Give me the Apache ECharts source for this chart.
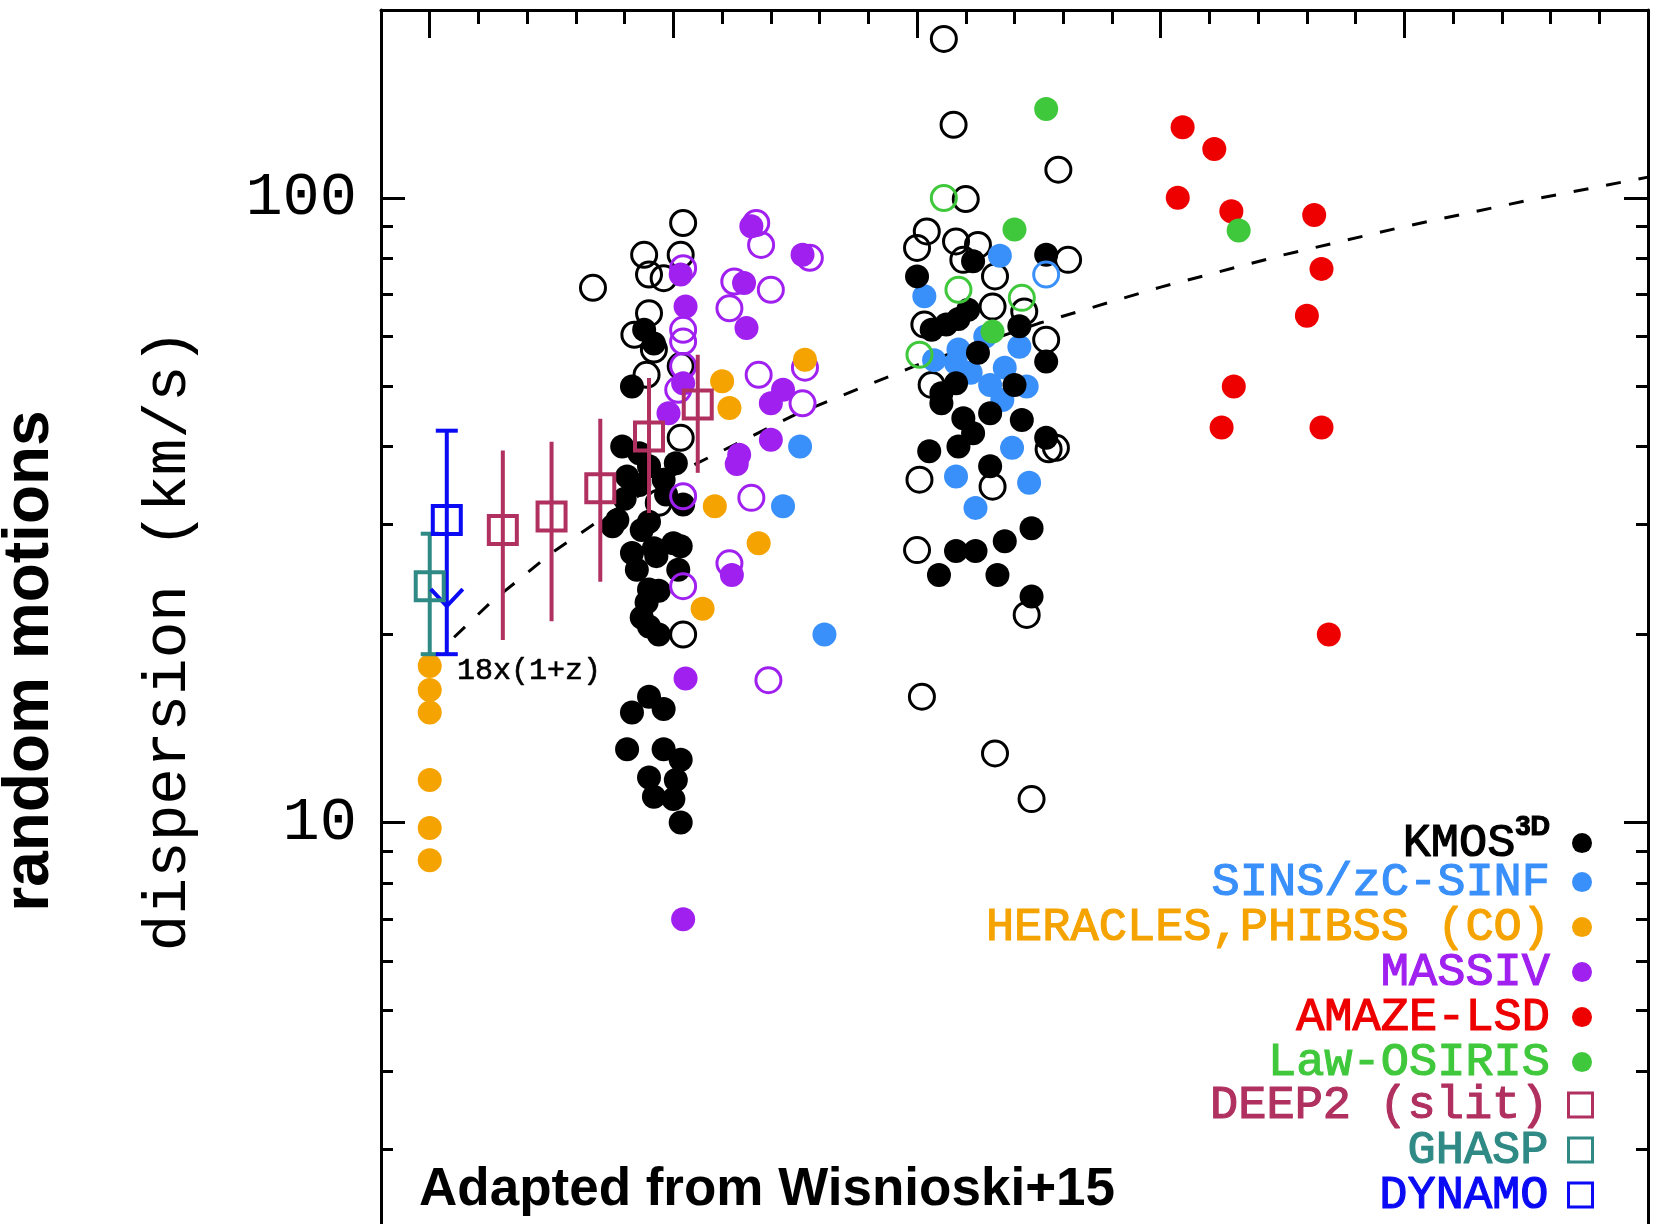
<!DOCTYPE html>
<html>
<head>
<meta charset="utf-8">
<script src="https://cdn.jsdelivr.net/npm/echarts@6/dist/echarts.min.js"></script>
<style>
  html, body { margin: 0; padding: 0; background: #ffffff; }
  #chart { width: 1654px; height: 1224px; }
</style>
</head>
<body>
<div id="chart"></div>
<script>
// Axis ranges: redshift z (linear) and velocity dispersion in km/s (log)
const zRange = [-0.2, 5];
const sigmaRange = [2, 200];
const zMajorTicks = [0, 1, 2, 3, 4, 5];
const zMinorTicks = [0.2, 0.4, 0.6, 0.8, 1.2, 1.4, 1.6, 1.8, 2.2, 2.4, 2.6, 2.8,
                     3.2, 3.4, 3.6, 3.8, 4.2, 4.4, 4.6, 4.8];
const sigmaMajorTicks = [10, 100];
const sigmaMinorTicks = [3, 4, 5, 6, 7, 8, 9, 20, 30, 40, 50, 60, 70, 80, 90];

// [z, sigma] for each survey
const kmosFilled = [
  [0.88, 61.5], [0.92, 58.5], [0.83, 49.9], [0.79, 40.0], [0.81, 35.8], [0.86, 39.0],
  [0.90, 37.2], [1.01, 37.6], [1.04, 32.3], [0.77, 30.5], [0.90, 30.3], [0.75, 29.8],
  [0.87, 29.4], [0.83, 27.0], [0.93, 26.7], [1.03, 27.7], [1.02, 25.4], [0.90, 23.6],
  [0.89, 22.5], [0.90, 20.6], [0.94, 20.0], [0.83, 15.0], [0.90, 15.9], [0.96, 15.2],
  [0.81, 13.1], [0.96, 13.1], [1.03, 12.6], [0.90, 11.8], [1.01, 11.7], [0.92, 11.0],
  [1.00, 10.9], [1.03, 10.0],
  [0.86, 34.7], [0.96, 35.4], [0.92, 27.5], [1.00, 28.0], [0.85, 25.4], [0.94, 23.5],
  [0.87, 21.3], [0.97, 33.5], [0.80, 33.0],
  [2.00, 74.9], [2.53, 81.1], [2.23, 79.2], [2.21, 66.2], [2.17, 64.0], [2.12, 62.7],
  [2.06, 61.5], [2.42, 62.3], [2.25, 56.5], [2.53, 54.7], [2.40, 50.2], [2.10, 48.7],
  [2.16, 50.5], [2.10, 46.9], [2.19, 44.4], [2.30, 45.2], [2.43, 44.1], [2.23, 42.0],
  [2.05, 39.3], [2.17, 40.0], [2.53, 41.3], [2.30, 37.2], [2.47, 29.6], [2.36, 28.2],
  [2.16, 27.2], [2.24, 27.2], [2.09, 24.9], [2.33, 24.9], [2.47, 23.0]
];
const kmosOpen = [
  [1.04, 91.2], [0.67, 71.8], [0.88, 81.1], [1.03, 81.1], [0.90, 75.4], [0.96, 74.4],
  [0.90, 65.4], [0.84, 60.4], [0.92, 57.2], [0.89, 52.1], [1.03, 53.8], [1.03, 41.3],
  [0.94, 32.5], [1.04, 20.0],
  [2.11, 179.8], [2.15, 131], [2.58, 111], [2.20, 99.6], [2.04, 88.4], [2.00, 83.2],
  [2.16, 85.2], [2.25, 84.1], [2.19, 79.6], [2.62, 79.6], [2.32, 74.9], [2.03, 62.7],
  [2.31, 67.0], [2.44, 65.8], [2.53, 59.3], [2.06, 50.2], [2.57, 39.8], [2.54, 39.6],
  [2.01, 35.4], [2.31, 34.5], [2.00, 27.3], [2.45, 21.5], [2.02, 15.9], [2.32, 12.9],
  [2.47, 10.9]
];
const sinsFilled = [
  [1.52, 40.0], [1.45, 32.1], [1.62, 20.0],
  [2.34, 80.8], [2.03, 69.6], [2.17, 57.2], [2.42, 57.8], [2.30, 50.2], [2.45, 49.9],
  [2.16, 54.4], [2.36, 53.5], [2.28, 60.0], [2.07, 55.0], [2.22, 52.5], [2.35, 47.5],
  [2.39, 39.8], [2.16, 35.8], [2.46, 35.0], [2.24, 31.9]
];
const sinsOpen = [[2.53, 75.4]];
const heracles = [
  [0.0, 17.8], [0.0, 16.3], [0.0, 15.0], [0.0, 11.7], [0.0, 9.8], [0.0, 8.7],
  [1.20, 50.9], [1.23, 46.1], [1.54, 55.1], [1.17, 32.1], [1.35, 28.0], [1.12, 22.0]
];
const massivFilled = [
  [1.32, 90.1], [1.53, 81.1], [1.03, 75.4], [1.29, 73.1], [1.05, 67.0], [1.30, 61.9],
  [1.04, 50.5], [0.98, 45.2], [1.45, 49.3], [1.40, 46.9], [1.40, 41.0], [1.27, 38.8],
  [1.26, 37.5], [1.24, 24.9], [1.05, 17.0], [1.04, 7.0]
];
const massivOpen = [
  [1.34, 91.2], [1.36, 84.1], [1.56, 80.2], [1.04, 77.2], [1.25, 73.5], [1.40, 71.3],
  [1.23, 66.6], [1.04, 61.5], [1.04, 58.9], [1.04, 53.8], [1.35, 52.1], [1.02, 49.3],
  [1.53, 46.9], [1.54, 53.5], [1.32, 33.1], [1.04, 33.3], [1.23, 26.0], [1.04, 23.9],
  [1.39, 16.9]
];
const amaze = [
  [3.09, 129.8], [3.22, 119.8], [3.07, 100.1], [3.29, 95.2], [3.63, 93.9], [3.66, 77.0],
  [3.60, 64.8], [3.30, 49.9], [3.25, 42.9], [3.66, 42.9], [3.69, 20.0]
];
const lawFilled = [[2.53, 138.8], [2.40, 89.0], [2.31, 61.1], [3.32, 88.7]];
const lawOpen = [[2.11, 100], [2.01, 56.1], [2.43, 69.2], [2.17, 71.3]];

// [z, sigma, lower, upper]
const deep2 = [
  [0.3, 29.4, 19.6, 39.4], [0.5, 30.9, 21.0, 40.7], [0.7, 34.3, 24.3, 44.3],
  [0.9, 41.5, 31.3, 51.5], [1.1, 46.7, 36.3, 56.1]
];
const ghasp = [[0.0, 23.9, 18.6, 29.0]];
// [z, sigma, lower, upper, upper-limit arrow tip]
const dynamo = [[0.07, 30.5, 18.6, 42.4, 22.2]];

// sigma = 18 x (1 + z) relation
const relationZ = [0.1, 0.25, 0.5, 0.75, 1, 1.5, 2, 2.5, 3, 3.5, 4, 4.5, 5];
const relationSigma = [19.8, 22.5, 27, 31.5, 36, 45, 54, 63, 72, 81, 90, 99, 108];

const C = {
  kmos: '#000000', sins: '#3a90fa', heracles: '#f5a300', massiv: '#a020f0',
  amaze: '#ee0000', law: '#40c83c', deep2: '#b03060', ghasp: '#2f8a85', dynamo: '#0a0af5'
};

const HERSHEY = '"Liberation Mono", "DejaVu Sans Mono", monospace';
const SANS = '"Liberation Sans", Arial, sans-serif';

const chart = echarts.init(document.getElementById('chart'), null, { renderer: 'canvas' });

function filled(name, data, color) {
  return {
    type: 'scatter', name, data, symbol: 'circle', symbolSize: 24,
    itemStyle: { color, opacity: 1 }, silent: true, z: 4
  };
}
function open(name, data, color) {
  return {
    type: 'scatter', name, data, symbol: 'circle', symbolSize: 25,
    itemStyle: { color: 'rgba(0,0,0,0)', borderColor: color, borderWidth: 3, opacity: 1 },
    silent: true, z: 4
  };
}
function squares(name, data, color) {
  return {
    type: 'scatter', name, data: data.map(d => [d[0], d[1]]), symbol: 'rect', symbolSize: 28,
    itemStyle: { color: 'rgba(0,0,0,0)', borderColor: color, borderWidth: 4, opacity: 1 },
    silent: true, z: 6
  };
}
function errorBars(name, data, color, capHalf) {
  return {
    type: 'custom', name: name + ' range', data, silent: true, z: 5,
    encode: { x: 0, y: 1 },
    renderItem: (params, api) => {
      const x = api.value(0);
      const top = api.coord([x, api.value(3)]);
      const bot = api.coord([x, api.value(2)]);
      const st = { stroke: color, lineWidth: 4 };
      const children = [{ type: 'line', shape: { x1: top[0], y1: top[1], x2: bot[0], y2: bot[1] }, style: st }];
      if (capHalf > 0) {
        children.push({ type: 'line', shape: { x1: top[0] - capHalf, y1: top[1], x2: top[0] + capHalf, y2: top[1] }, style: st });
        children.push({ type: 'line', shape: { x1: bot[0] - capHalf, y1: bot[1], x2: bot[0] + capHalf, y2: bot[1] }, style: st });
      }
      const tipVal = api.value(4);
      if (!isNaN(tipVal)) {
        const tip = api.coord([x, tipVal]);
        children.push({ type: 'polyline', shape: { points: [[tip[0] - 16, tip[1] - 17], [tip[0], tip[1]], [tip[0] + 16, tip[1] - 17]] }, style: { stroke: color, lineWidth: 4, fill: null } });
      }
      return { type: 'group', children };
    }
  };
}

// Legend rows: label, colour, marker kind
const legendRows = [
  ['KMOS3D', C.kmos, 'dot'], ['SINS/zC-SINF', C.sins, 'dot'],
  ['HERACLES,PHIBSS (CO)', C.heracles, 'dot'], ['MASSIV', C.massiv, 'dot'],
  ['AMAZE-LSD', C.amaze, 'dot'], ['Law-OSIRIS', C.law, 'dot'],
  ['DEEP2 (slit)', C.deep2, 'box'], ['GHASP', C.ghasp, 'box'], ['DYNAMO', C.dynamo, 'box']
];
const legends = legendRows.map((r, i) => {
  const cy = 823 + i * 45;
  const box = r[2] === 'box';
  const size = box ? 24 : 20;
  const txt = { color: r[1], fontFamily: HERSHEY, fontSize: 47, fontWeight: 'normal',
                textBorderColor: r[1], textBorderWidth: 1.2 };
  return {
    show: true, orient: 'horizontal', align: 'right', selectedMode: false, padding: 0,
    right: box ? 60 : 62, top: cy - size / 2,
    itemWidth: size, itemHeight: size,
    data: [{
      name: r[0],
      icon: box ? 'rect' : 'circle',
      itemStyle: box ? { color: 'rgba(0,0,0,0)', borderColor: r[1], borderWidth: 3 } : { color: r[1], borderWidth: 0 }
    }],
    formatter: r[0] === 'KMOS3D' ? '{a|KMOS}{b|3D}' : '{name}',
    textStyle: Object.assign({}, txt, {
      lineHeight: size, padding: [0, box ? 15 : 17, 0, 0],
      rich: {
        a: Object.assign({}, txt, { lineHeight: 20, verticalAlign: 'middle' }),
        b: { color: r[1], fontFamily: SANS, fontSize: 27, fontWeight: 'bold', lineHeight: 20,
             verticalAlign: 'middle', padding: [0, 0, 32, 0] }
      }
    })
  };
});

const tickStyle = { color: '#000', width: 3 };
const option = {
  backgroundColor: '#ffffff',
  animation: false,
  grid: { left: 381, top: 10, width: 1267, height: 1249, containLabel: false, outerBoundsMode: 'none' },
  legend: legends,
  xAxis: [
    { type: 'value', min: zRange[0], max: zRange[1], position: 'top',
      axisLine: { show: true, onZero: false, lineStyle: tickStyle },
      axisTick: { show: true, inside: true, length: 28, customValues: zMajorTicks, lineStyle: tickStyle },
      axisLabel: { show: false }, splitLine: { show: false } },
    { type: 'value', min: zRange[0], max: zRange[1], position: 'top',
      axisLine: { show: false, onZero: false },
      axisTick: { show: true, inside: true, length: 14, customValues: zMinorTicks, lineStyle: tickStyle },
      axisLabel: { show: false }, splitLine: { show: false } },
    { type: 'value', min: zRange[0], max: zRange[1], position: 'bottom',
      axisLine: { show: true, onZero: false, lineStyle: tickStyle },
      axisTick: { show: false }, axisLabel: { show: false }, splitLine: { show: false } }
  ],
  yAxis: [
    { type: 'log', logBase: 10, min: sigmaRange[0], max: sigmaRange[1], position: 'left',
      axisLine: { show: true, onZero: false, lineStyle: tickStyle },
      axisTick: { show: true, inside: true, length: 24, customValues: sigmaMajorTicks, lineStyle: tickStyle },
      axisLabel: { show: true, customValues: sigmaMajorTicks, margin: 24, color: '#000',
        fontFamily: HERSHEY, fontSize: 62, formatter: v => String(Math.round(v)) },
      splitLine: { show: false } },
    { type: 'log', logBase: 10, min: sigmaRange[0], max: sigmaRange[1], position: 'left',
      axisLine: { show: false, onZero: false },
      axisTick: { show: true, inside: true, length: 12, customValues: sigmaMinorTicks, lineStyle: tickStyle },
      axisLabel: { show: false }, splitLine: { show: false } },
    { type: 'log', logBase: 10, min: sigmaRange[0], max: sigmaRange[1], position: 'right',
      axisLine: { show: true, onZero: false, lineStyle: tickStyle },
      axisTick: { show: true, inside: true, length: 24, customValues: sigmaMajorTicks, lineStyle: tickStyle },
      axisLabel: { show: false }, splitLine: { show: false } },
    { type: 'log', logBase: 10, min: sigmaRange[0], max: sigmaRange[1], position: 'right',
      axisLine: { show: false, onZero: false },
      axisTick: { show: true, inside: true, length: 12, customValues: sigmaMinorTicks, lineStyle: tickStyle },
      axisLabel: { show: false }, splitLine: { show: false } }
  ],
  graphic: [
    { type: 'text', x: 30, y: 661, rotation: Math.PI / 2, silent: true,
      style: { text: 'random motions', font: 'bold 64px ' + SANS, fill: '#000', align: 'center', verticalAlign: 'middle' } },
    { type: 'text', x: 169, y: 640, rotation: Math.PI / 2, silent: true,
      style: { text: 'dispersion (km/s)', font: '61px ' + HERSHEY, fill: '#000', align: 'center', verticalAlign: 'middle' } },
    { type: 'text', x: 419, y: 1190, silent: true,
      style: { text: 'Adapted from Wisnioski+15', font: 'bold 53px ' + SANS, fill: '#000', align: 'left', verticalAlign: 'middle' } },
    { type: 'text', x: 457, y: 671, silent: true,
      style: { text: '18x(1+z)', font: '30px ' + HERSHEY, fill: '#000', align: 'left', verticalAlign: 'middle',
               stroke: '#000', lineWidth: 0.6 } }
  ],
  series: [
    { type: 'line', name: '18x(1+z)', data: relationZ.map((z, i) => [z, relationSigma[i]]),
      showSymbol: false, smooth: false, silent: true, z: 3,
      lineStyle: { color: '#000', width: 3, type: [15, 18] } },
    errorBars('DEEP2 (slit)', deep2, C.deep2, 0),
    errorBars('GHASP', ghasp, C.ghasp, 9),
    errorBars('DYNAMO', dynamo, C.dynamo, 11),
    open('KMOS3D open', kmosOpen, C.kmos),
    filled('SINS/zC-SINF', sinsFilled, C.sins),
    filled('KMOS3D', kmosFilled, C.kmos),
    open('SINS open', sinsOpen, C.sins),
    open('MASSIV open', massivOpen, C.massiv),
    filled('MASSIV', massivFilled, C.massiv),
    filled('HERACLES,PHIBSS (CO)', heracles, C.heracles),
    filled('AMAZE-LSD', amaze, C.amaze),
    open('Law-OSIRIS open', lawOpen, C.law),
    filled('Law-OSIRIS', lawFilled, C.law),
    squares('DEEP2 (slit)', deep2, C.deep2),
    squares('GHASP', ghasp, C.ghasp),
    squares('DYNAMO', dynamo, C.dynamo)
  ]
};
chart.setOption(option);
</script>
</body>
</html>
